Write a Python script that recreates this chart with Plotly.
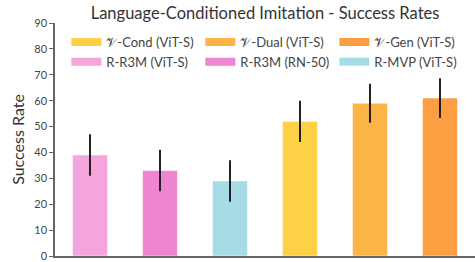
import plotly.graph_objects as go

categories = ["R-R3M (ViT-S)", "R-R3M (RN-50)", "R-MVP (ViT-S)",
              "𝒱-Cond (ViT-S)", "𝒱-Dual (ViT-S)", "𝒱-Gen (ViT-S)"]
values = [39, 33, 29, 52, 59, 61]
errors = [8, 8, 8, 8, 7.5, 7.7]
colors = ["#F4A5DC", "#EF85D1", "#A6DCE6", "#FED046", "#FDB446", "#FE9E42"]
legend_order = [3, 4, 5, 0, 1, 2]
y_ticks = [0, 10, 20, 30, 40, 50, 60, 70, 80, 90]

FONT = "Lato"

fig = go.Figure()
for i, (c, v, e, col) in enumerate(zip(categories, values, errors, colors)):
    fig.add_trace(go.Bar(
        x=[i], y=[v], width=0.5,
        marker=dict(color=col, line=dict(color="rgba(255,255,255,0.5)", width=1)),
        error_y=dict(type="data", array=[e], color="#222222", thickness=2, width=0),
        showlegend=False, hoverinfo="skip"))

for i in legend_order:
    fig.add_trace(go.Scatter(
        x=[None], y=[None], mode="lines", name=categories[i],
        line=dict(color=colors[i], width=8)))

fig.update_layout(
    width=475, height=262,
    margin=dict(l=55, r=0, t=23, b=6),
    paper_bgcolor="white", plot_bgcolor="white",
    font=dict(family=FONT, color="#444444", size=11),
    title=dict(text="Language-Conditioned Imitation - Success Rates",
               x=0.558, xanchor="center", y=0.95, yanchor="middle",
               font=dict(family=FONT, size=16.5, color="#333333")),
    legend=dict(orientation="h", x=0.027, y=0.983, xanchor="left", yanchor="top",
                entrywidth=89, entrywidthmode="pixels", itemwidth=30,
                font=dict(family=FONT, size=13, color="#444444"),
                bgcolor="rgba(0,0,0,0)"),
    bargap=0.5,
)
fig.update_xaxes(range=[-0.5, 5.5], showticklabels=False, ticks="", showgrid=False,
                 showline=True, linecolor="#666666", linewidth=1.5, zeroline=False,
                 automargin=False)
fig.update_yaxes(range=[0, 90], tickvals=y_ticks, ticks="outside", ticklen=4,
                 tickcolor="#666666", showgrid=False, showline=True,
                 linecolor="#666666", linewidth=1.5, zeroline=False, automargin=False,
                 title=dict(text="Success Rate", font=dict(family=FONT, size=16, color="#333333"), standoff=6),
                 tickfont=dict(family=FONT, size=11, color="#444444"))

fig.write_html("out.html", config={"displayModeBar": False},
               post_script="document.body.style.margin='0';")
